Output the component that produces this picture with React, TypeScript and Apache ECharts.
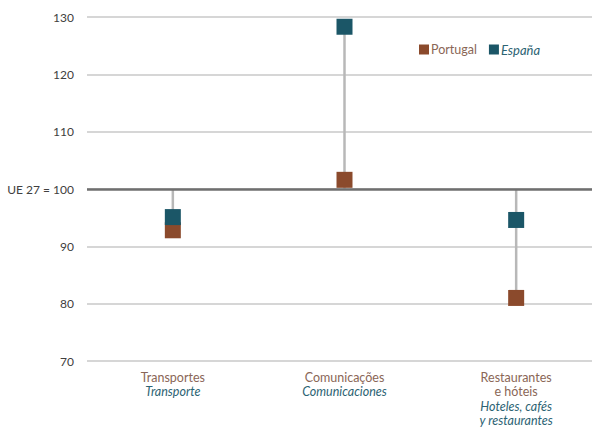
import React, { useEffect, useRef } from "react";
import * as echarts from "echarts";

const categoriesPt = ["Transportes", "Comunicações", "Restaurantes\ne hóteis"];
const categoriesEs = ["Transporte", "Comunicaciones", "Hoteles, cafés\ny restaurantes"];
const portugal = [92.8, 101.6, 81.0];
const espana = [95.1, 128.3, 94.6];
const baseline = 100;
const yTicks = { min: 70, max: 130, interval: 10 };

const PT_COLOR = "#8b4a2c";
const ES_COLOR = "#1b5667";
const FONT = "Lato";

export default function App() {
  const ref = useRef<HTMLDivElement>(null);
  useEffect(() => {
    if (!ref.current) return;
    const chart = echarts.init(ref.current, null, { renderer: "svg" });
    const rangeData = categoriesPt.map((_, i) => [
      i,
      Math.min(baseline, portugal[i], espana[i]),
      Math.max(baseline, portugal[i], espana[i]),
    ]);
    chart.setOption({
      animation: false,
      textStyle: { fontFamily: FONT },
      grid: { left: 87, right: -10, top: 17, bottom: 67, containLabel: false, outerBoundsMode: "none" },
      legend: {
        top: 38,
        left: 414,
        itemWidth: 10,
        itemHeight: 10,
        itemGap: 12,
        icon: "rect",
        data: [
          { name: "Portugal", textStyle: { color: "#8a6656", fontSize: 12.5, fontFamily: FONT } },
          { name: "España", textStyle: { color: "#2c6373", fontSize: 13, fontStyle: "italic", fontFamily: FONT } },
        ],
        textStyle: { padding: [0, 0, 0, -3] },
      },
      xAxis: {
        type: "category",
        data: categoriesPt.map((c, i) => c + "|" + categoriesEs[i]),
        axisLine: { show: false },
        axisTick: { show: false },
        axisLabel: {
          margin: 9,
          interval: 0,
          lineHeight: 14.5,
          formatter: (v: string) => {
            const [pt, es] = v.split("|");
            const a = pt.split("\n").map((s) => `{pt|${s}}`);
            const b = es.split("\n").map((s) => `{es|${s}}`);
            return [...a, ...b].join("\n");
          },
          rich: {
            pt: { color: "#8a6656", fontSize: 12.5, lineHeight: 14.5, fontFamily: FONT },
            es: { color: "#2c6373", fontSize: 12.5, lineHeight: 14.5, fontStyle: "italic", fontFamily: FONT },
          },
        },
      },
      yAxis: {
        type: "value",
        min: yTicks.min,
        max: yTicks.max,
        interval: yTicks.interval,
        axisLine: { show: false },
        axisTick: { show: false },
        axisLabel: {
          margin: 13,
          color: "#404040",
          fontSize: 12,
          fontFamily: FONT,
          formatter: (v: number) => (v === baseline ? "UE 27 = 100" : String(v)),
        },
        splitLine: { lineStyle: { color: "#c9c9c9", width: 1.5 } },
      },
      series: [
        {
          type: "custom",
          z: 1,
          silent: true,
          data: rangeData,
          renderItem: (params: any, api: any) => {
            const p1 = api.coord([api.value(0), api.value(1)]);
            const p2 = api.coord([api.value(0), api.value(2)]);
            return {
              type: "line",
              shape: { x1: p1[0], y1: p1[1], x2: p2[0], y2: p2[1] },
              style: { stroke: "#b8b8b8", lineWidth: 2.5 },
            };
          },
          markLine: {
            silent: true,
            symbol: "none",
            label: { show: false },
            lineStyle: { color: "#6f6f6f", width: 2.5, type: "solid" },
            data: [{ yAxis: baseline }],
          },
        },
        {
          name: "Portugal",
          type: "scatter",
          z: 3,
          symbol: "rect",
          symbolSize: 16,
          itemStyle: { color: PT_COLOR, opacity: 1 },
          data: portugal,
        },
        {
          name: "España",
          type: "scatter",
          z: 4,
          symbol: "rect",
          symbolSize: 16,
          itemStyle: { color: ES_COLOR, opacity: 1 },
          data: espana,
        },
      ],
    });
    return () => chart.dispose();
  }, []);
  return (
    <div
      ref={ref}
      style={{ position: "absolute", left: 0, top: 0, width: 592, height: 428, background: "#fff" }}
    />
  );
}
